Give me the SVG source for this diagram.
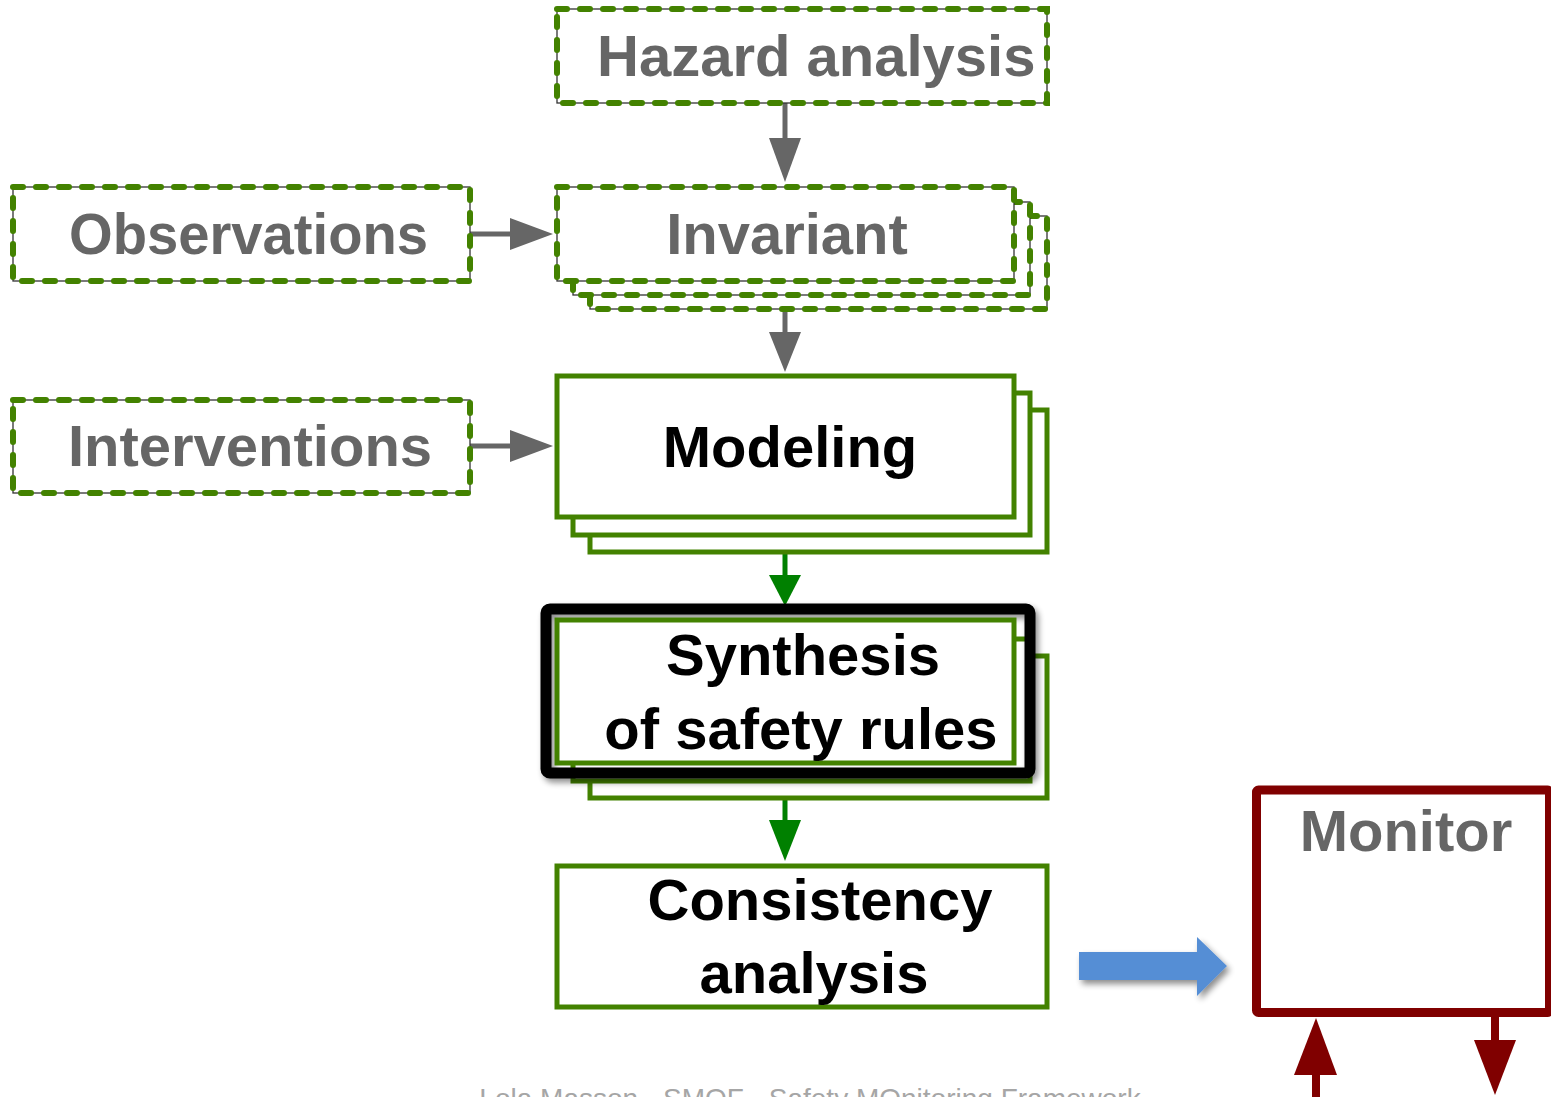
<svg xmlns="http://www.w3.org/2000/svg" width="1551" height="1097" viewBox="0 0 1551 1097">
  <defs>
    <style>
      .lbl { font-family: "Liberation Sans", Arial, sans-serif; font-weight: bold; font-size: 58px; }
      .grey { fill: #666666; }
      .dark { fill: #000000; }
      .dashThin { fill: #ffffff; stroke: #333333; stroke-width: 1.3; }
      .dash { fill: none; stroke: #438200; stroke-width: 6; stroke-dasharray: 10 13; stroke-linecap: round; }
      .solid { fill: #ffffff; stroke: #438200; stroke-width: 5; }
      .gline { stroke: #666666; stroke-width: 5; fill: none; }
      .greenline { stroke: #008000; stroke-width: 5; fill: none; }
      .redline { stroke: #800000; stroke-width: 8; fill: none; }
    </style>
    <filter id="shadow" x="-10%" y="-10%" width="130%" height="130%">
      <feGaussianBlur in="SourceAlpha" stdDeviation="3"/>
      <feOffset dx="3" dy="4" result="b"/>
      <feComponentTransfer><feFuncA type="linear" slope="0.45"/></feComponentTransfer>
      <feMerge><feMergeNode/><feMergeNode in="SourceGraphic"/></feMerge>
    </filter>
  </defs>

  <rect width="1551" height="1097" fill="#ffffff"/>

  <!-- connectors -->
  <g id="connectors">
    <!-- hazard -> invariant -->
    <line class="gline" x1="785" y1="103" x2="785" y2="142"/>
    <polygon points="769,138 801,138 785,182" fill="#666666"/>
    <!-- observations -> invariant -->
    <line class="gline" x1="470" y1="234" x2="514" y2="234"/>
    <polygon points="510,218 510,250 553,234" fill="#666666"/>
    <!-- invariant -> modeling -->
    <line class="gline" x1="785" y1="281" x2="785" y2="336"/>
    <polygon points="769,332 801,332 785,372" fill="#666666"/>
    <!-- interventions -> modeling -->
    <line class="gline" x1="470" y1="446" x2="514" y2="446"/>
    <polygon points="510,430 510,462 553,446" fill="#666666"/>
    <!-- modeling -> synthesis -->
    <line class="greenline" x1="785" y1="517" x2="785" y2="578"/>
    <polygon points="769,575 801,575 785,606" fill="#008000"/>
    <!-- synthesis -> consistency -->
    <line class="greenline" x1="785" y1="776" x2="785" y2="823"/>
    <polygon points="769,820 801,820 785,861" fill="#008000"/>
    <!-- consistency -> monitor -->
    <polygon points="1079,952 1197,952 1197,937 1227,966 1197,996 1197,980 1079,980" fill="#558ED5" filter="url(#shadow)"/>
    <!-- monitor inputs / outputs -->
    <line class="redline" x1="1316" y1="1070" x2="1316" y2="1097"/>
    <polygon points="1294,1075 1337,1075 1316,1018" fill="#800000"/>
    <line class="redline" x1="1495" y1="1017" x2="1495" y2="1045"/>
    <polygon points="1474,1040 1516,1040 1495,1095" fill="#800000"/>
  </g>

  <!-- dashed input boxes -->
  <g id="hazard-analysis">
    <rect class="dashThin" x="557" y="9" width="490" height="94"/>
    <rect class="dash" x="557" y="9" width="490" height="94"/>
    <text class="lbl grey" x="597" y="76">Hazard analysis</text>
  </g>

  <g id="observations">
    <rect class="dashThin" x="13" y="187" width="457" height="94"/>
    <rect class="dash" x="13" y="187" width="457" height="94"/>
    <text class="lbl grey" x="69" y="254" textLength="359" lengthAdjust="spacingAndGlyphs">Observations</text>
  </g>

  <g id="invariant">
    <rect class="dashThin" x="590" y="216" width="457" height="93"/>
    <rect class="dash" x="590" y="216" width="457" height="93"/>
    <rect class="dashThin" x="573" y="202" width="457" height="93"/>
    <rect class="dash" x="573" y="202" width="457" height="93"/>
    <rect class="dashThin" x="557" y="187" width="457" height="94"/>
    <rect class="dash" x="557" y="187" width="457" height="94"/>
    <text class="lbl grey" x="787" y="254" text-anchor="middle">Invariant</text>
  </g>

  <g id="interventions">
    <rect class="dashThin" x="13" y="400" width="457" height="93"/>
    <rect class="dash" x="13" y="400" width="457" height="93"/>
    <text class="lbl grey" x="250" y="466" text-anchor="middle">Interventions</text>
  </g>

  <!-- processing steps -->
  <g id="modeling">
    <rect class="solid" x="590" y="410" width="457" height="142"/>
    <rect class="solid" x="573" y="393" width="457" height="142"/>
    <rect class="solid" x="557" y="376" width="457" height="141"/>
    <text class="lbl dark" x="790" y="467" text-anchor="middle">Modeling</text>
  </g>

  <g id="synthesis">
    <rect class="solid" x="590" y="656" width="457" height="142"/>
    <rect class="solid" x="573" y="639" width="457" height="142"/>
    <rect x="546" y="609" width="484" height="164" rx="4" fill="none" stroke="#000000" stroke-width="11" filter="url(#shadow)"/>
    <rect class="solid" x="557" y="620" width="457" height="143"/>
    <text class="lbl dark" x="803" y="675" text-anchor="middle">Synthesis</text>
    <text class="lbl dark" x="801" y="749" text-anchor="middle">of safety rules</text>
  </g>

  <g id="consistency">
    <rect class="solid" x="557" y="866" width="490" height="141"/>
    <text class="lbl dark" x="820" y="920" text-anchor="middle">Consistency</text>
    <text class="lbl dark" x="814" y="993" text-anchor="middle">analysis</text>
  </g>

  <g id="monitor">
    <rect x="1256.5" y="790" width="293" height="222.5" rx="2" fill="#ffffff" stroke="#800000" stroke-width="9"/>
    <text class="lbl grey" x="1406" y="851" text-anchor="middle">Monitor</text>
  </g>

  <!-- footer (runs past the bottom edge) -->
  <text x="810" y="1108" text-anchor="middle" font-family="'Liberation Sans', Arial, sans-serif" font-size="28" fill="#a6a6a6">Lola Masson - SMOF - Safety MOnitoring Framework</text>
</svg>
